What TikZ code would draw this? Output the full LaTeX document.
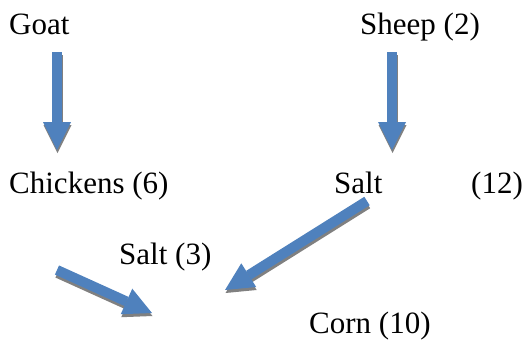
\documentclass[tikz,border=0pt]{standalone}
\usepackage{fontspec}
\setmainfont{Liberation Serif}
\usetikzlibrary{arrows.meta}
\definecolor{cArrow}{RGB}{79,129,189}
\definecolor{cShadow}{RGB}{128,128,128}
\tikzset{
	lbl/.style        ={anchor=base west, inner sep=0pt, font=\fontsize{31}{37}\selectfont},
	blkarrow/.style   ={line width=10pt, draw=cArrow, -{Triangle[length=28pt, width=28pt, line width=0pt]}},
	shadowarrow/.style={blkarrow, draw=cShadow, transform canvas={shift={(0.5pt,-3pt)}}},
}
\begin{document}
\begin{tikzpicture}[x=1pt, y=-1pt]
	\useasboundingbox (0,0) rectangle (524,341);
	% labels
	\node[lbl] (goat)      at (9,34)    {Goat};
	\node[lbl] (sheep)     at (360,34)  {Sheep (2)};
	\node[lbl] (chickens)  at (9,193)   {Chickens (6)};
	\node[lbl] (salt)      at (334,193) {Salt};
	\node[lbl] (twelve)    at (471,193) {(12)};
	\node[lbl] (saltthree) at (119,264) {Salt (3)};
	\node[lbl] (corn)      at (309,333) {Corn (10)};
	% arrow ends
	\coordinate (goatout)  at (57,52);
	\coordinate (chickin)  at (57,150);
	\coordinate (sheepout) at (392,52);
	\coordinate (saltin)   at (392,150);
	\coordinate (saltout)  at (367,201);
	\coordinate (rightin)  at (225,290);
	\coordinate (leftout)  at (57,270);
	\coordinate (leftin)   at (152,313);
	% shadows first, then arrows
	\foreach \a/\b in {goatout/chickin, sheepout/saltin, saltout/rightin, leftout/leftin}
		\draw[shadowarrow] (\a) -- (\b);
	\foreach \a/\b in {goatout/chickin, sheepout/saltin, saltout/rightin, leftout/leftin}
		\draw[blkarrow] (\a) -- (\b);
\end{tikzpicture}
\end{document}
